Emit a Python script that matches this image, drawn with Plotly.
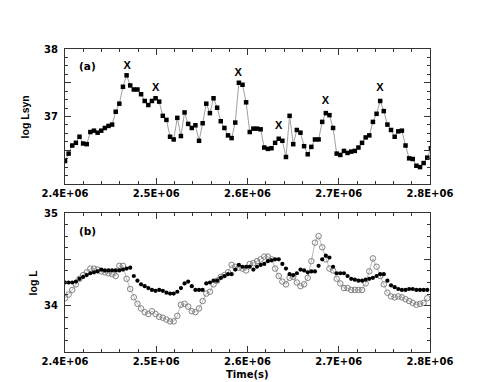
import plotly.graph_objects as go
from plotly.subplots import make_subplots

# sampling cadence of the light curves (s)
T0 = 2.4e6
DT = 3970

# (a) synchrotron luminosity, black squares
log_lsyn = [
    36.34, 36.45, 36.57, 36.61, 36.70, 36.60, 36.59, 36.77, 36.79, 36.76,
    36.79, 36.83, 36.86, 36.88, 37.07, 37.19, 37.44, 37.61, 37.46, 37.40,
    37.40, 37.33, 37.23, 37.17, 37.23, 37.27, 37.22, 37.01, 36.95, 36.70,
    36.66, 36.98, 36.71, 37.06, 36.89, 36.83, 36.87, 36.64, 36.90, 37.19,
    37.05, 37.27, 37.13, 36.93, 36.83, 36.72, 36.68, 36.91, 37.50, 37.47,
    37.21, 36.77, 36.82, 36.82, 36.81, 36.54, 36.52, 36.53, 36.61, 36.67,
    36.64, 36.40, 37.01, 36.59, 36.80, 36.76, 36.56, 36.44, 36.55, 36.66,
    36.66, 36.92, 37.05, 37.02, 36.83, 36.45, 36.43, 36.49, 36.46, 36.48,
    36.49, 36.54, 36.61, 36.69, 36.72, 36.92, 37.04, 37.23, 37.08, 36.88,
    36.80, 36.70, 36.78, 36.79, 36.57, 36.38, 36.37, 36.27, 36.25, 36.31,
    36.39, 36.53,
]

# "X" flags above the flares in (a)
flare_t = [2.468e6, 2.4994e6, 2.5899e6, 2.6342e6, 2.6853e6, 2.7452e6]
flare_y = [37.75, 37.42, 37.64, 36.86, 37.22, 37.42]

# (b) filled circles
log_l_filled = [
    34.25, 34.25, 34.25, 34.26, 34.29, 34.31, 34.33, 34.35, 34.36, 34.37,
    34.39, 34.38, 34.38, 34.38, 34.38, 34.38, 34.39, 34.40, 34.41, 34.32,
    34.27, 34.23, 34.21, 34.19, 34.17, 34.16, 34.17, 34.16, 34.14, 34.13,
    34.13, 34.15, 34.19, 34.24, 34.26, 34.21, 34.17, 34.17, 34.17, 34.24,
    34.25, 34.27, 34.27, 34.30, 34.32, 34.34, 34.34, 34.39, 34.44, 34.42,
    34.42, 34.42, 34.39, 34.42, 34.44, 34.45, 34.48, 34.49, 34.50, 34.50,
    34.45, 34.40, 34.34, 34.33, 34.35, 34.39, 34.38, 34.36, 34.37, 34.37,
    34.43, 34.50, 34.54, 34.52, 34.42, 34.35, 34.35, 34.35, 34.32, 34.29,
    34.28, 34.27, 34.27, 34.28, 34.29, 34.30, 34.32, 34.34, 34.34, 34.27,
    34.22, 34.20, 34.18, 34.17, 34.17, 34.18, 34.18, 34.17, 34.17, 34.17,
    34.17,
]

# (b) open circles
log_l_open = [
    34.08, 34.12, 34.17, 34.23, 34.29, 34.33, 34.36, 34.40, 34.40, 34.39,
    34.37, 34.36, 34.35, 34.34, 34.32, 34.43, 34.43, 34.29, 34.18, 34.09,
    34.02, 33.97, 33.93, 33.91, 33.94, 33.91, 33.88, 33.87, 33.85, 33.83,
    33.83, 33.89, 34.01, 34.02, 33.99, 33.94, 33.93, 33.97, 34.05, 34.13,
    34.15, 34.23, 34.27, 34.31, 34.33, 34.36, 34.44, 34.42, 34.41, 34.40,
    34.38, 34.45, 34.46, 34.48, 34.50, 34.53, 34.53, 34.50, 34.40, 34.32,
    34.26, 34.23, 34.30, 34.31, 34.25, 34.21, 34.23, 34.30, 34.48, 34.68,
    34.75, 34.63, 34.50, 34.40, 34.38, 34.29, 34.24, 34.19, 34.19, 34.17,
    34.17, 34.17, 34.17, 34.24, 34.37, 34.51, 34.42, 34.32, 34.23, 34.14,
    34.10, 34.09, 34.10, 34.09, 34.07, 34.05, 34.03, 34.01, 34.02, 34.03,
    34.08,
]

x_ticks = [2.4e6, 2.5e6, 2.6e6, 2.7e6, 2.8e6]
x_ticktext = ["2.4E+06", "2.5E+06", "2.6E+06", "2.7E+06", "2.8E+06"]

t_a = [T0 + DT * i for i in range(len(log_lsyn))]
t_b = [T0 + DT * i for i in range(len(log_l_open))]

FONT = "DejaVu Sans"
ARIAL = "Liberation Sans, Arial"
fig = make_subplots(rows=2, cols=1, vertical_spacing=0.0957)

fig.add_trace(go.Scatter(
    x=t_a, y=log_lsyn, mode="lines+markers",
    line=dict(color="#a0a0a0", width=1),
    marker=dict(symbol="square", size=4.5, color="black"),
), row=1, col=1)
fig.add_trace(go.Scatter(
    x=flare_t, y=flare_y, mode="text", text=["X"] * len(flare_t),
    textfont=dict(family=ARIAL, size=11, color="black", weight="bold"),
), row=1, col=1)

fig.add_trace(go.Scatter(
    x=t_b, y=log_l_open, mode="lines+markers",
    line=dict(color="#a8a8a8", width=0.8),
    marker=dict(symbol="circle-open", size=5.5, color="#808080", line=dict(width=1)),
), row=2, col=1)
fig.add_trace(go.Scatter(
    x=t_b, y=log_l_filled, mode="markers",
    marker=dict(symbol="circle", size=4.2, color="black"),
), row=2, col=1)

axis_common = dict(
    showline=True, linecolor="#333", linewidth=1.3, mirror="ticks",
    ticks="inside", ticklen=6, tickcolor="#333", tickwidth=1,
    showgrid=False, zeroline=False,
    tickfont=dict(family=FONT, size=10, color="black", weight="bold"),
)
for r in (1, 2):
    fig.update_xaxes(
        range=[2.4e6, 2.8e6], tickvals=x_ticks, ticktext=x_ticktext,
        minor=dict(tickmode="linear", tick0=2.4e6, dtick=2e4, ticks="inside",
                   ticklen=3, tickcolor="#333"),
        **axis_common, row=r, col=1,
    )

fig.update_yaxes(
    range=[36, 38], tickvals=[36, 36.5, 37, 37.5, 38],
    ticktext=["", "", "37", "", "38"],
    minor=dict(tickmode="linear", tick0=36, dtick=0.125, ticks="inside",
               ticklen=3, tickcolor="#333"),
    ticklabelstandoff=4, **axis_common, row=1, col=1,
)
fig.update_yaxes(
    range=[33.5, 35], tickvals=[33.5, 34, 34.5, 35],
    ticktext=["", "34", "", "35"],
    minor=dict(tickmode="linear", tick0=33.5, dtick=0.125, ticks="inside",
               ticklen=3, tickcolor="#333"),
    ticklabelstandoff=4, **axis_common, row=2, col=1,
)
fig.update_layout(xaxis=dict(domain=[0, 1]), yaxis=dict(domain=[0.5545, 1]),
                  yaxis2=dict(domain=[0, 0.4587]))

ann = [
    dict(text="(a)", xref="x domain", yref="y domain", x=0.061, y=0.876,
         font=dict(family=FONT, size=10.5, weight="bold")),
    dict(text="(b)", xref="x2 domain", yref="y2 domain", x=0.061, y=0.873,
         font=dict(family=FONT, size=10.5, weight="bold")),
    dict(text="log Lsyn", xref="paper", yref="y domain", x=-0.107, y=0.5,
         textangle=-90, font=dict(family=ARIAL, size=10.5, weight="bold")),
    dict(text="log L", xref="paper", yref="y2 domain", x=-0.088, y=0.5,
         textangle=-90, font=dict(family=ARIAL, size=10.5, weight="bold")),
    dict(text="Time(s)", xref="paper", yref="paper", x=0.5, y=-0.075,
         yanchor="middle", font=dict(family=FONT, size=10, weight="bold")),
]
for a in ann:
    a.setdefault("showarrow", False)
    a.setdefault("xanchor", "center")
    a.setdefault("yanchor", "middle")
    a["font"]["color"] = "black"

# the page body adds an 8px offset, so the figure is sized to fit inside it
fig.update_layout(
    width=483, height=374,
    margin=dict(l=57, r=61, t=41, b=30),
    showlegend=False,
    paper_bgcolor="white", plot_bgcolor="white",
    annotations=ann,
)
fig.write_html("out.html")
